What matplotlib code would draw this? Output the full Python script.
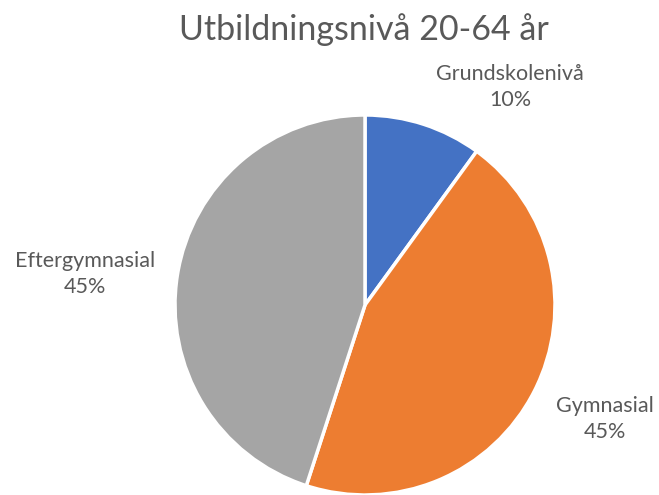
import matplotlib.pyplot as plt

# Data
categories = ["Grundskolenivå", "Gymnasial", "Eftergymnasial"]
shares = [10, 45, 45]
colors = ["#4472C4", "#ED7D31", "#A5A5A5"]
title = "Utbildningsnivå 20-64 år"

# Layout (pixel coordinates, y measured from bottom)
W, H = 659, 495
CENTER = (365, H - 305)
RADIUS = 190
LABEL_POS = [(510, H - 87), (605, H - 419), (85, H - 274)]

plt.rcParams["font.family"] = ["Lato", "DejaVu Sans"]

fig = plt.figure(figsize=(W / 100, H / 100), dpi=100)
ax = fig.add_axes([0, 0, 1, 1])

ax.pie(
    shares,
    colors=colors,
    startangle=90,
    counterclock=False,
    center=CENTER,
    radius=RADIUS,
    wedgeprops=dict(edgecolor="white", linewidth=2.5),
)
ax.set_xlim(0, W)
ax.set_ylim(0, H)
ax.set_aspect("equal")
ax.axis("off")

for name, share, (x, y) in zip(categories, shares, LABEL_POS):
    ax.text(x, y, f"{name}\n{share}%", ha="center", va="center",
            fontsize=15.5, color="#595959", linespacing=1.4)

ax.text(364, H - 30, title, ha="center", va="center",
        fontsize=24.5, color="#595959")

fig.savefig("out.png", dpi=100)
